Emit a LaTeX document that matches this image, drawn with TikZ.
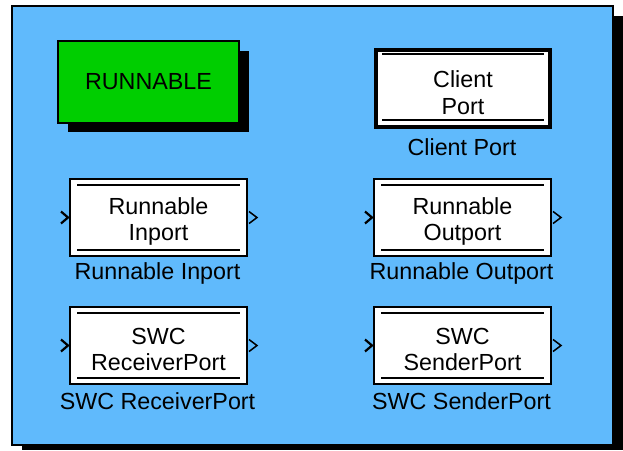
\documentclass[tikz,border=0pt]{standalone}
\usepackage{fontspec}
\setmainfont{Liberation Sans}
\usetikzlibrary{calc}
\definecolor{canvasblue}{RGB}{96,186,252}
\definecolor{runnablegreen}{RGB}{0,206,0}
\tikzset{
  txt/.style={font=\fontsize{23.3}{26.5}\selectfont, text=black, inner sep=0pt, align=center},
  portbox/.style={draw=black, fill=white, line width=2pt, minimum width=177pt, minimum height=77pt, inner sep=0pt},
  clientbox/.style={draw=black, fill=white, line width=4pt, minimum width=174pt, minimum height=77pt, inner sep=0pt},
  bar/.style={line width=1.5pt},
  chevin/.style={line width=2.2pt, line join=miter},
  chevout/.style={line width=1.5pt, line join=miter},
}
% Inner top/bottom bars of a port block
\newcommand{\portbars}[2]{%
  \draw[bar] ($(#1.north west)+(8,#2)$) -- ($(#1.north east)+(-8,#2)$);
  \draw[bar] ($(#1.south west)+(8,-#2)$) -- ($(#1.south east)+(-8,-#2)$);}
% Input and output chevrons at the sides of a block
\newcommand{\portchevrons}[1]{%
  \draw[chevin] ($(#1.west)+(-8,-6)$) -- ($(#1.west)+(-1,0)$) -- ($(#1.west)+(-8,6)$);
  \draw[chevout] ($(#1.east)+(1,-6)$) -- ($(#1.east)+(9,0)$) -- ($(#1.east)+(1,6)$);}
\begin{document}
\begin{tikzpicture}[x=1pt,y=-1pt]
\useasboundingbox (0,0) rectangle (623,450);
% canvas with drop shadow
\fill[black] (22,16) rectangle (623,450);
\draw[fill=canvasblue, line width=1.5pt] (12,6) rectangle (613,445);

% runnable block with drop shadow
\fill[black] (68,51) rectangle (249,132);
\node[txt, draw=black, fill=runnablegreen, line width=2pt, minimum width=181pt, minimum height=82pt] (run) at (148.5,82) {RUNNABLE};

% client port
\node[clientbox] (client) at (463,88.5) {};
\draw[bar] ($(client.north west)+(8,6)$) -- ($(client.north east)+(-8,6)$);
\draw[bar] ($(client.south west)+(8,-9)$) -- ($(client.south east)+(-8,-9)$);
\node[txt] (clienttxt) at ($(client)+(0,4)$) {Client\\Port};
\node[txt] (clientlbl) at (462,147) {Client Port};

% runnable inport / outport
\node[portbox] (rin) at (158.5,217.5) {};
\portbars{rin}{7}
\portchevrons{rin}
\node[txt] (rintxt) at ($(rin)+(0,4)$) {Runnable\\Inport};
\node[txt] (rinlbl) at (157.5,273) {Runnable Inport};

\node[portbox] (rout) at (462.5,217.5) {};
\portbars{rout}{7}
\portchevrons{rout}
\node[txt] (routtxt) at ($(rout)+(0,4)$) {Runnable\\Outport};
\node[txt] (routlbl) at (461.5,273) {Runnable Outport};

% SWC receiver / sender ports
\node[portbox] (recv) at (158.5,345.5) {};
\portbars{recv}{7}
\portchevrons{recv}
\node[txt] (recvtxt) at ($(recv)+(0,4)$) {SWC\\ReceiverPort};
\node[txt] (recvlbl) at (157.5,401) {SWC ReceiverPort};

\node[portbox] (send) at (462.5,345.5) {};
\portbars{send}{7}
\portchevrons{send}
\node[txt] (sendtxt) at ($(send)+(0,4)$) {SWC\\SenderPort};
\node[txt] (sendlbl) at (461.5,401) {SWC SenderPort};
\end{tikzpicture}
\end{document}
